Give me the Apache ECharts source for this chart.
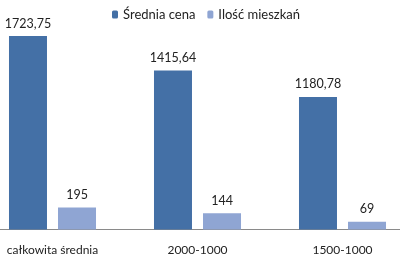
<!DOCTYPE html>
<html>
<head>
<meta charset="utf-8">
<script src="https://cdn.jsdelivr.net/npm/echarts@6/dist/echarts.min.js"></script>
<style>html,body{margin:0;padding:0;background:#fff;overflow:hidden;width:400px;height:263px}#c{position:absolute;left:-20px;top:0;width:435px;height:263px}</style>
</head>
<body>
<div id="c"></div>
<script>
var categories = ['całkowita średnia', '2000-1000', '1500-1000'];
var seriesNames = ['Średnia cena', 'Ilość mieszkań'];
var avgPrice = [1723.75, 1415.64, 1180.78];
var flatCount = [195, 144, 69];

var chart = echarts.init(document.getElementById('c'));
var font = 'Lato, "Noto Sans", sans-serif';
function fmt(p) { return String(p.value).replace('.', ','); }
chart.setOption({
  animation: false,
  textStyle: { fontFamily: font },
  legend: {
    top: 3, left: 127,
    itemWidth: 6, itemHeight: 8, itemGap: 12,
    textStyle: { fontFamily: font, fontSize: 13, color: '#222' },
    data: seriesNames
  },
  grid: { left: 0, right: 0, top: 5, bottom: 33.5, containLabel: false },
  xAxis: {
    type: 'category',
    data: categories,
    axisLine: { lineStyle: { color: '#8a8a8a', width: 1 } },
    axisTick: { show: false },
    axisLabel: { fontFamily: font, fontSize: 12, color: '#222', margin: 15 }
  },
  yAxis: {
    type: 'value', min: 0, max: 2000, show: false,
    splitLine: { show: false }
  },
  series: [
    {
      name: seriesNames[0], type: 'bar', data: avgPrice,
      barWidth: 38, barGap: '29%',
      itemStyle: { color: '#4470A6' },
      label: { show: true, position: 'top', distance: 6, formatter: fmt, fontFamily: font, fontSize: 12.5, color: '#222' }
    },
    {
      name: seriesNames[1], type: 'bar', data: flatCount,
      barWidth: 38,
      itemStyle: { color: '#8FA5D3' },
      label: { show: true, position: 'top', distance: 6, formatter: fmt, fontFamily: font, fontSize: 12.5, color: '#222' }
    }
  ]
});
</script>
</body>
</html>
